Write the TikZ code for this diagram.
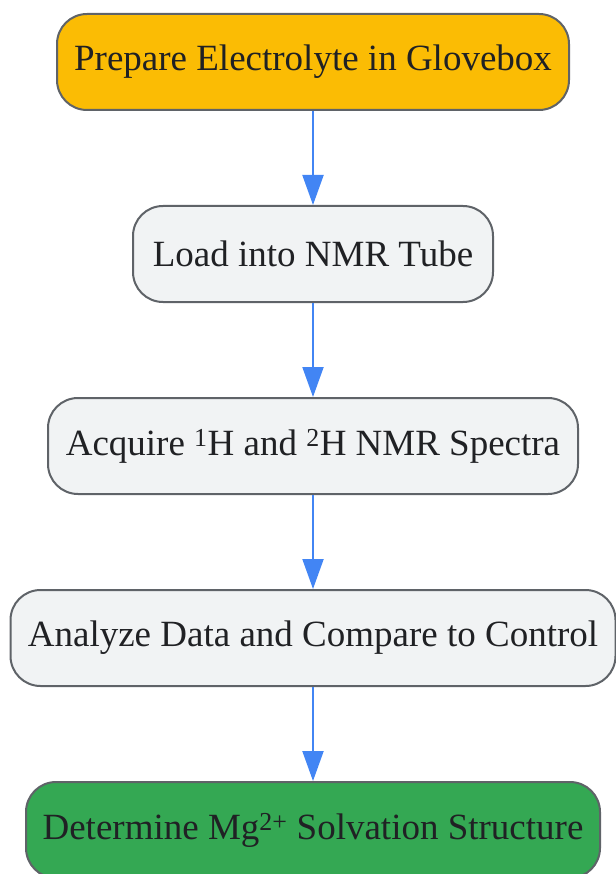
\documentclass[tikz,border=0pt]{standalone}
\usepackage{fontspec}
\setmainfont{Liberation Serif}
\usetikzlibrary{arrows.meta}

\definecolor{boxedge}{HTML}{5F6368}
\definecolor{boxgray}{HTML}{F1F3F4}
\definecolor{startorange}{HTML}{FBBC04}
\definecolor{endgreen}{HTML}{34A853}
\definecolor{flowblue}{HTML}{4285F4}
\definecolor{inktext}{HTML}{202124}

\begin{document}
\begin{tikzpicture}[x=1pt,y=-1pt,
every node/.style={draw=boxedge,line width=2pt,fill=boxgray,rounded corners=30pt,
  minimum height=96pt,text=inktext,font=\fontsize{37}{44}\selectfont},
flow/.style={draw=flowblue,line width=2pt,-{Triangle[length=30pt,width=21pt]}}]

\useasboundingbox (0,0) rectangle (615,874);

\node[fill=startorange,minimum width=512pt] (prep) at (313,62) {Prepare Electrolyte in Glovebox};
\node[minimum width=360pt] (load) at (313,254) {Load into NMR Tube};
\node[minimum width=530pt] (acq) at (313,446) {Acquire \textsuperscript{1}H and \textsuperscript{2}H NMR Spectra};
\node[minimum width=605pt] (ana) at (313,638) {Analyze Data and Compare to Control};
\node[fill=endgreen,minimum width=574pt] (det) at (313,830) {Determine Mg\textsuperscript{2+} Solvation Structure};

\draw[flow] (prep)--(load);
\draw[flow] (load)--(acq);
\draw[flow] (acq)--(ana);
\draw[flow] (ana)--(det);

\end{tikzpicture}
\end{document}
